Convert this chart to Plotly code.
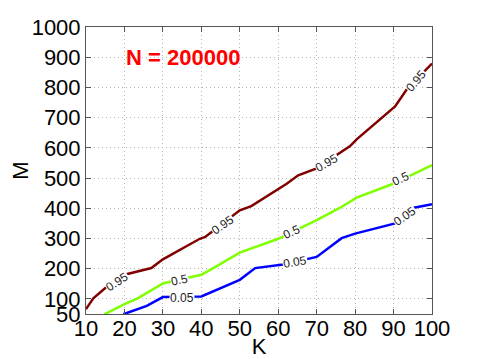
'''
    Contour-like lines of M versus K for N = 200000.
'''

import plotly.graph_objects as go

# level 0.95
k_95 = [10, 11.9, 15.4, 20, 27, 30, 39.6, 41, 50, 53, 62.2, 65.2, 70, 78.7, 80.4, 87.3, 90.4, 93.4, 100]
m_95 = [66, 102, 140, 180, 202, 231, 299, 305, 393, 407, 481, 509, 532, 606, 628, 702, 737, 793, 879]

# level 0.5
k_50 = [14.8, 20, 23.2, 30, 31.8, 37.9, 40, 43.1, 50, 60, 70, 76, 80.4, 89.9, 100]
m_50 = [49, 83, 100, 151, 157, 174, 180, 202, 253, 299, 361, 401, 435, 481, 543]

# level 0.05
k_05 = [19.7, 25.8, 30, 31.8, 37.9, 40, 50, 54, 61.3, 70, 76.5, 80, 90.4, 95, 100]
m_05 = [49, 77, 106, 106, 106, 108, 163, 202, 214, 239, 301, 316, 350, 401, 413]

# inline labels: text, K, M
label_text = ['0.95', '0.95', '0.95', '0.95', '0.5', '0.5', '0.5', '0.05', '0.05', '0.05']
label_k = [18, 45.6, 72.6, 95.8, 34.4, 63.5, 91.7, 34.9, 64.4, 93]
label_m = [157, 344, 549, 822, 163, 322, 498, 104, 223, 373]
label_angle = [-33, -35, -29, -50, -12, -25, -25, 0, -10, -35]

x_ticks = [10, 20, 30, 40, 50, 60, 70, 80, 90, 100]
y_ticks = [50, 100, 200, 300, 400, 500, 600, 700, 800, 900, 1000]

FONT = 'Liberation Sans, Arial, sans-serif'

fig = go.Figure()
for ks, ms, col in [(k_95, m_95, '#800000'), (k_50, m_50, '#80ff00'), (k_05, m_05, '#0000ff')]:
    fig.add_trace(go.Scatter(x=ks, y=ms, mode='lines', line=dict(color=col, width=2.5),
                             showlegend=False, hoverinfo='skip'))

for txt, k, m, ang in zip(label_text, label_k, label_m, label_angle):
    fig.add_annotation(x=k, y=m, text=txt, showarrow=False, textangle=ang,
                       bgcolor='white', borderpad=0,
                       font=dict(family=FONT, size=12, color='#222222'))

fig.add_annotation(x=35.2, y=900, text='<b>N = 200000</b>', showarrow=False,
                   font=dict(family=FONT, size=22, color='#ff0000'))

axis_style = dict(showline=True, mirror='ticks', linecolor='#555555', linewidth=1,
                  ticks='inside', ticklen=5, tickcolor='#555555', automargin=False,
                  showgrid=True, gridcolor='#b4b4b4', griddash='1px,3px', gridwidth=1,
                  zeroline=False, tickfont=dict(family=FONT, size=22, color='black'))

fig.update_xaxes(range=[10, 100], tickvals=x_ticks, ticklabelstandoff=-5,
                 title=dict(text='K', standoff=0,
                            font=dict(family=FONT, size=22, color='black')), **axis_style)
fig.update_yaxes(range=[50, 1000], tickvals=y_ticks,
                 title=dict(text='M', standoff=20,
                            font=dict(family=FONT, size=22, color='black')), **axis_style)

# the page body adds an 8px offset, so the figure is 8px smaller and margins shifted
fig.update_layout(width=470, height=351, template='simple_white',
                  plot_bgcolor='white', paper_bgcolor='white',
                  margin=dict(l=78, r=46, t=19, b=45))

fig.write_html('out.html')
